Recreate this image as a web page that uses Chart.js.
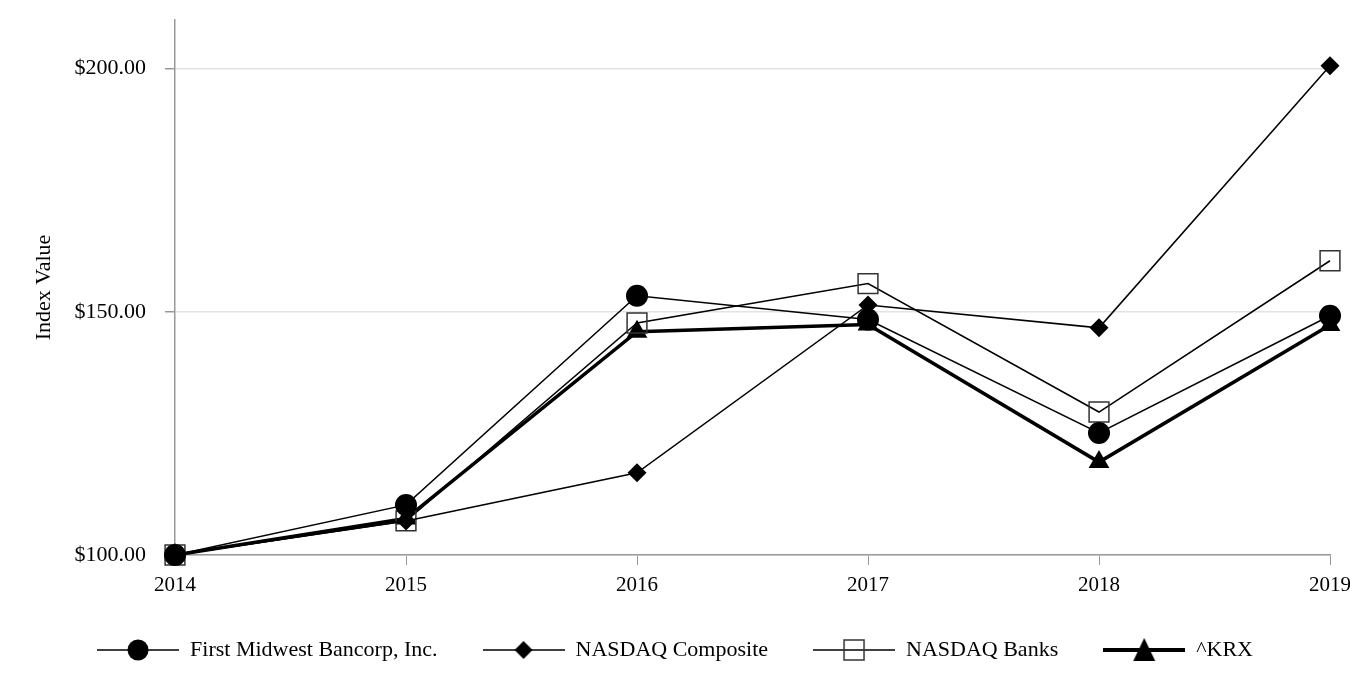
<!DOCTYPE html>
<html>
<head>
<meta charset="utf-8">
<script src="https://cdn.jsdelivr.net/npm/chart.js@4"></script>
<style>
  body { margin: 0; background: #fff; }
  #wrap { width: 1350px; height: 692px; }
</style>
</head>
<body>
<div id="wrap"><canvas id="chart"></canvas></div>
<script>
const years = ['2014', '2015', '2016', '2017', '2018', '2019'];
const firstMidwest = [100, 110.3, 153.3, 148.4, 125.1, 149.2];
const nasdaqComposite = [100, 107.0, 116.9, 151.4, 146.7, 200.6];
const nasdaqBanks = [100, 107.0, 147.7, 155.8, 129.4, 160.5];
const krx = [100, 107.5, 145.9, 147.4, 119.1, 147.3];
const yTicks = [100, 150, 200];

const FONT = "'Liberation Serif', 'Times New Roman', serif";

// legend swatch: line with the marker in the middle
function swatch(kind, lw) {
  const c = document.createElement('canvas');
  c.width = 82; c.height = 26;
  const g = c.getContext('2d');
  g.strokeStyle = '#000';
  g.lineWidth = lw;
  g.beginPath(); g.moveTo(0, 13); g.lineTo(82, 13); g.stroke();
  g.fillStyle = '#000';
  const x = 41, y = 13;
  g.beginPath();
  if (kind === 'circle') {
    g.arc(x, y, 10.5, 0, Math.PI * 2); g.fill();
  } else if (kind === 'diamond') {
    g.moveTo(x - 9, y); g.lineTo(x, y - 9); g.lineTo(x + 9, y); g.lineTo(x, y + 9); g.closePath(); g.fill();
  } else if (kind === 'square') {
    g.strokeStyle = '#333'; g.lineWidth = 1.5;
    g.strokeRect(x - 10, y - 10, 20, 20);
  } else {
    g.moveTo(x, y - 12); g.lineTo(x + 11, y + 11); g.lineTo(x - 11, y + 11); g.closePath(); g.fill();
  }
  return c;
}

const legendImgs = [swatch('circle', 1.5), swatch('diamond', 1.5), swatch('square', 1.5), swatch('triangle', 4)];

new Chart(document.getElementById('chart'), {
  type: 'line',
  data: {
    labels: years,
    datasets: [
      { label: 'First Midwest Bancorp, Inc.', data: firstMidwest, borderColor: '#000', backgroundColor: '#000',
        borderWidth: 1.5, pointStyle: 'circle', pointRadius: 11, pointBorderWidth: 0, clip: false },
      { label: 'NASDAQ Composite', data: nasdaqComposite, borderColor: '#000', backgroundColor: '#000',
        borderWidth: 1.5, pointStyle: 'rectRot', pointRadius: 9.5, pointBorderWidth: 0, clip: false },
      { label: 'NASDAQ Banks', data: nasdaqBanks, borderColor: '#000', backgroundColor: 'rgba(0,0,0,0)',
        pointBorderColor: '#333', borderWidth: 1.5, pointStyle: 'rect', pointRadius: 14, pointBorderWidth: 1.5, clip: false },
      { label: '^KRX', data: krx, borderColor: '#000', backgroundColor: '#000',
        borderWidth: 3.5, pointStyle: 'triangle', pointRadius: 12, pointBorderWidth: 0, clip: false }
    ]
  },
  options: {
    responsive: true,
    maintainAspectRatio: false,
    animation: false,
    layout: { padding: { top: 20, right: 0, left: 0, bottom: 21 } },
    plugins: {
      tooltip: { enabled: false },
      legend: {
        position: 'bottom',
        labels: {
          color: '#000',
          font: { family: FONT, size: 22 },
          usePointStyle: true,
          pointStyleWidth: 82,
          boxHeight: 22,
          padding: 45,
          generateLabels: chart => chart.data.datasets.map((ds, i) => ({
            text: ds.label, pointStyle: legendImgs[i], fillStyle: '#000', strokeStyle: '#000',
            lineWidth: 0, datasetIndex: i, hidden: false, fontColor: '#000'
          }))
        }
      }
    },
    scales: {
      x: {
        offset: false,
        grid: { drawOnChartArea: false, drawTicks: true, tickLength: 10, tickColor: '#999', color: '#999' },
        border: { color: '#999', width: 1.5 },
        ticks: { color: '#000', font: { family: FONT, size: 21 }, padding: 8, maxRotation: 0 },
        afterFit: s => { s.height = 39; s.paddingLeft = 0; s.paddingRight = 20; }
      },
      y: {
        min: 100,
        max: 210,
        afterBuildTicks: s => { s.ticks = yTicks.map(v => ({ value: v })); },
        grid: { color: '#e3e3e3', lineWidth: 1.5, tickLength: 10, tickColor: '#999' },
        border: { color: '#999', width: 1.5 },
        ticks: { color: '#000', font: { family: FONT, size: 22 }, padding: 19,
          callback: v => '$' + Number(v).toFixed(2) },
        title: { display: true, text: 'Index Value', color: '#000', font: { family: FONT, size: 22 },
          padding: { top: 31, bottom: 0 } },
        afterFit: s => { s.width = 175; s.paddingTop = 0; s.paddingBottom = 0; }
      }
    }
  }
});
</script>
</body>
</html>
